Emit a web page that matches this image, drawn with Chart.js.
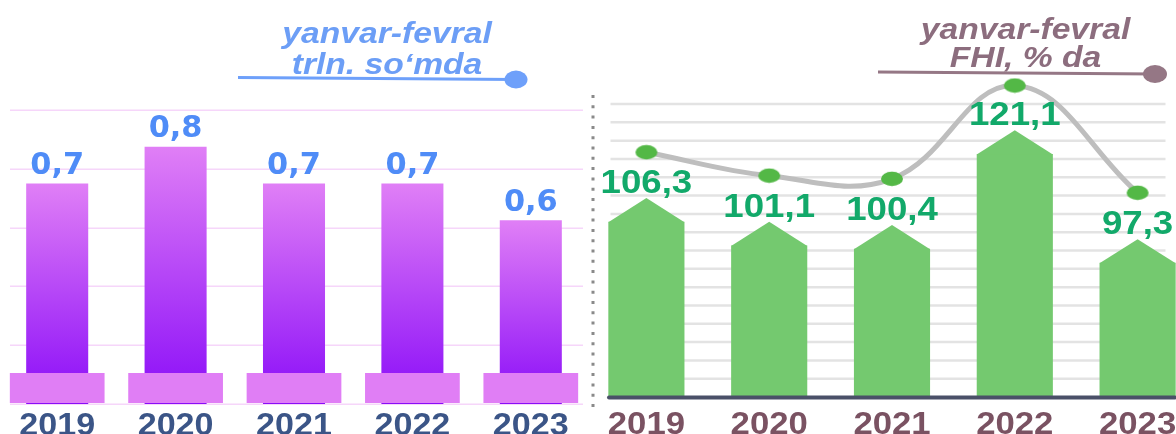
<!DOCTYPE html>
<html>
<head>
<meta charset="utf-8">
<script src="https://cdn.jsdelivr.net/npm/chart.js@4.4.1/dist/chart.umd.min.js"></script>
<style>
  html, body { margin: 0; padding: 0; background: #ffffff; overflow: hidden; }
  #wrap { position: relative; width: 1176px; height: 434px; overflow: hidden; background: #ffffff; }
  canvas { position: absolute; top: 0; }
  #volume { left: -2px; }
  #growth { left: 585px; }
</style>
</head>
<body>
<div id="wrap">
  <canvas id="volume" width="592" height="434"></canvas>
  <canvas id="growth" width="614" height="434"></canvas>
</div>
<script>
// Years shown on both panels
const years = ['2019', '2020', '2021', '2022', '2023'];

// Left panel: January-February volume, trillion so'm
const volumeTrln = [0.7, 0.8, 0.7, 0.7, 0.6];
const volumeTitle = ['yanvar-fevral', 'trln. so‘mda'];

// Right panel: January-February growth, % of previous year
const growthPct = [106.3, 101.1, 100.4, 121.1, 97.3];
const growthTitle = ['yanvar-fevral', 'FHI, % da'];

const fmt = v => v.toFixed(1).replace('.', ',');

// Text helper: centred text with a horizontal stretch
function wideText(ctx, text, x, y, font, color, sx) {
  ctx.save();
  ctx.font = font;
  ctx.fillStyle = color;
  ctx.textAlign = 'center';
  ctx.textBaseline = 'alphabetic';
  ctx.translate(x, y);
  ctx.scale(sx, 1);
  ctx.fillText(text, 0, 0);
  ctx.restore();
}

// Title block with an underline ending in a round dot
function drawTitle(ctx, lines, cx, base1, base2, color, line, dotColor) {
  const f = 'italic bold 29px "Liberation Sans", Arial, sans-serif';
  wideText(ctx, lines[0], cx, base1, f, color, 1.16);
  wideText(ctx, lines[1], cx, base2, f, color, 1.16);
  ctx.save();
  ctx.strokeStyle = dotColor;
  ctx.lineWidth = 3;
  ctx.beginPath();
  ctx.moveTo(line.x1, line.y1);
  ctx.lineTo(line.x2, line.y2);
  ctx.stroke();
  ctx.fillStyle = dotColor;
  ctx.beginPath();
  ctx.ellipse(line.x2, line.y2, line.rx, line.ry, 0, 0, Math.PI * 2);
  ctx.fill();
  ctx.restore();
}

// Violet gradient for each volume bar, from its top down to the base
function violetFill(c) {
  const chart = c.chart;
  const area = chart.chartArea;
  if (!area || c.type !== 'data') return '#b040f7';
  const top = chart.scales.y.getPixelForValue(c.parsed.y);
  const g = chart.ctx.createLinearGradient(0, top, 0, area.bottom);
  g.addColorStop(0, '#E07FF6');
  g.addColorStop(1, '#8A0CF8');
  return g;
}

const volumeDecor = {
  id: 'volumeDecor',
  beforeDatasetsDraw(chart) {
    const ctx = chart.ctx;
    const ys = chart.scales.y;
    ctx.save();
    ctx.strokeStyle = '#F6D6FA';
    ctx.lineWidth = 1.5;
    ys.ticks.forEach(t => {
      const y = Math.round(ys.getPixelForValue(t.value)) + 0.25;
      ctx.beginPath();
      ctx.moveTo(12, y);
      ctx.lineTo(585, y);
      ctx.stroke();
    });
    ctx.restore();
  },
  afterDatasetsDraw(chart) {
    const ctx = chart.ctx;
    const xs = chart.scales.x;
    const area = chart.chartArea;
    const meta = chart.getDatasetMeta(0);
    const cw = xs.getPixelForValue(1) - xs.getPixelForValue(0);
    // pedestal blocks under the bars
    ctx.save();
    ctx.fillStyle = '#E07EF5';
    meta.data.forEach(el => {
      ctx.fillRect(el.x - cw * 0.4, area.bottom - 31, cw * 0.8, 30);
    });
    ctx.restore();
    // value labels
    meta.data.forEach((el, i) => {
      wideText(ctx, fmt(volumeTrln[i]), el.x, el.y - 9.5,
        'bold 31px "DejaVu Sans", Verdana, sans-serif', '#4F8CF7', 0.98);
    });
    // year labels
    meta.data.forEach((el, i) => {
      wideText(ctx, years[i], el.x, 435,
        'bold 31px "Liberation Sans", Arial, sans-serif', '#3B5587', 1.1);
    });
    drawTitle(ctx, volumeTitle, 389, 42.5, 73.5, '#6C9EF6',
      { x1: 240, y1: 77.5, x2: 518, y2: 79.5, rx: 11.5, ry: 9 }, '#6EA0FA');
  }
};

new Chart(document.getElementById('volume'), {
  type: 'bar',
  data: {
    labels: years,
    datasets: [{
      data: volumeTrln,
      backgroundColor: violetFill,
      borderWidth: 0,
      barPercentage: 0.524,
      categoryPercentage: 1
    }]
  },
  options: {
    responsive: false,
    animation: false,
    events: [],
    layout: { padding: { top: 110, bottom: 30, left: 0, right: 0 } },
    plugins: { legend: { display: false }, tooltip: { enabled: false } },
    scales: {
      x: { display: false },
      y: { display: false, min: 0.1, max: 0.9, ticks: { count: 6 } }
    }
  },
  plugins: [volumeDecor]
});

// Ellipse marker for the growth line
const marker = document.createElement('canvas');
marker.width = 24;
marker.height = 16;
(function () {
  const m = marker.getContext('2d');
  m.fillStyle = '#53B846';
  m.beginPath();
  m.ellipse(12, 8, 11, 7.2, 0, 0, Math.PI * 2);
  m.fill();
})();

const growthDecor = {
  id: 'growthDecor',
  beforeDatasetsDraw(chart) {
    const ctx = chart.ctx;
    const ys = chart.scales.y;
    const area = chart.chartArea;
    ctx.save();
    // horizontal grid
    ctx.strokeStyle = '#E3E3E3';
    ctx.lineWidth = 2.5;
    ys.ticks.forEach(t => {
      const y = ys.getPixelForValue(t.value);
      if (y >= area.bottom - 1) return;
      ctx.beginPath();
      ctx.moveTo(25.5, y);
      ctx.lineTo(580.5, y);
      ctx.stroke();
    });
    // dotted left axis
    ctx.strokeStyle = '#8A8A8A';
    ctx.lineWidth = 3;
    ctx.setLineDash([3, 7.3]);
    ctx.beginPath();
    ctx.moveTo(8, 95);
    ctx.lineTo(8, 408);
    ctx.stroke();
    ctx.restore();
  },
  afterDatasetDraw(chart, args) {
    if (args.index !== 0) return;
    // pointed roofs on the bars
    const ctx = chart.ctx;
    ctx.save();
    ctx.fillStyle = '#74C96F';
    args.meta.data.forEach(el => {
      const half = el.width / 2;
      ctx.beginPath();
      ctx.moveTo(el.x - half, el.y + 0.5);
      ctx.lineTo(el.x, el.y - half * 0.62);
      ctx.lineTo(el.x + half, el.y + 0.5);
      ctx.closePath();
      ctx.fill();
    });
    ctx.restore();
  },
  afterDatasetsDraw(chart) {
    const ctx = chart.ctx;
    const area = chart.chartArea;
    const meta = chart.getDatasetMeta(0);
    const lineMeta = chart.getDatasetMeta(1);
    // markers on the growth line
    lineMeta.data.forEach(pt => {
      ctx.drawImage(marker, pt.x - marker.width / 2, pt.y - marker.height / 2);
    });
    // base axis
    ctx.save();
    ctx.strokeStyle = '#4A5068';
    ctx.lineWidth = 4;
    ctx.lineCap = 'round';
    ctx.beginPath();
    ctx.moveTo(24, area.bottom + 0.5);
    ctx.lineTo(590, area.bottom + 0.5);
    ctx.stroke();
    ctx.restore();
    // value labels above the roofs
    meta.data.forEach((el, i) => {
      const peak = el.y - (el.width / 2) * 0.62;
      wideText(ctx, fmt(growthPct[i]), el.x, peak - 5,
        'bold 33px "Liberation Sans", Arial, sans-serif', '#12A96A', 1.11);
    });
    // year labels
    meta.data.forEach((el, i) => {
      wideText(ctx, years[i], el.x, 434,
        'bold 31px "Liberation Sans", Arial, sans-serif', '#7A5262', 1.12);
    });
    drawTitle(ctx, growthTitle, 440.5, 38.5, 67, '#8C6D7E',
      { x1: 293, y1: 72, x2: 570, y2: 74, rx: 12, ry: 9 }, '#957785');
  }
};

new Chart(document.getElementById('growth'), {
  type: 'bar',
  data: {
    labels: years,
    datasets: [
      {
        type: 'bar',
        data: growthPct,
        backgroundColor: '#74C96F',
        borderWidth: 0,
        barPercentage: 0.62,
        categoryPercentage: 1,
        yAxisID: 'y',
        order: 2
      },
      {
        type: 'line',
        data: growthPct,
        yAxisID: 'y2',
        borderColor: '#BEBEBE',
        borderWidth: 5,
        tension: 0.4,
        pointRadius: 0,
        pointBorderWidth: 0,
        clip: false,
        order: 1
      }
    ]
  },
  options: {
    responsive: false,
    animation: false,
    events: [],
    layout: { padding: { top: 104, bottom: 37, left: 0, right: 0 } },
    plugins: { legend: { display: false }, tooltip: { enabled: false } },
    scales: {
      x: { display: false },
      y: { display: false, min: 68, max: 132, ticks: { stepSize: 4 } },
      y2: { display: false, min: 52, max: 117 }
    }
  },
  plugins: [growthDecor]
});
</script>
</body>
</html>
